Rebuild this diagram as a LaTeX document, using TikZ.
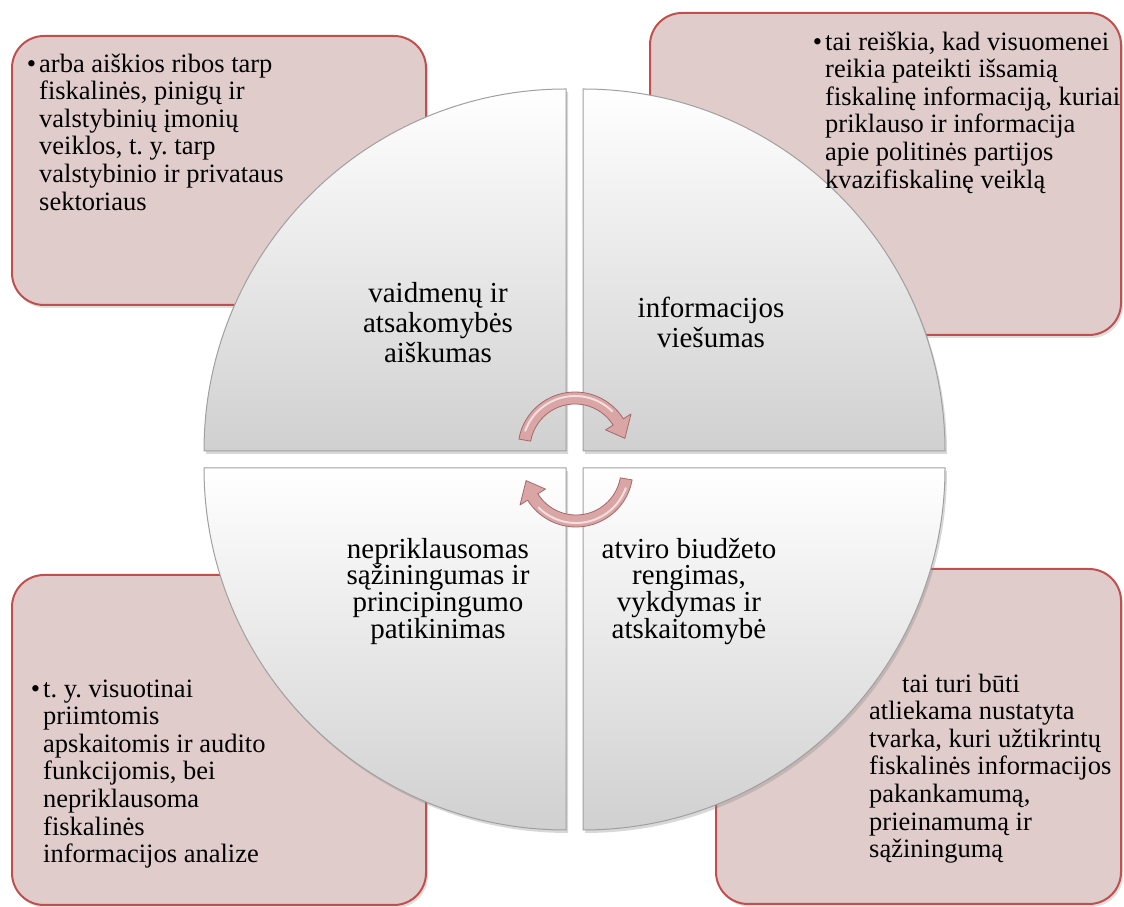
\documentclass[tikz,border=0pt]{standalone}
\usepackage{fontspec}
\setmainfont{Liberation Serif}
\usetikzlibrary{shadows}
\frenchspacing
\definecolor{boxfill}{HTML}{E1CCCC}
\definecolor{boxline}{HTML}{C0504D}
\definecolor{quadgray}{HTML}{D0D0D0}
\definecolor{quadline}{HTML}{A0A0A0}
\definecolor{arrowfill}{HTML}{D9A5A5}
\definecolor{arrowline}{HTML}{A46A6A}
\begin{document}
\begin{tikzpicture}[x=1pt,y=1pt,
  infobox/.style={draw=boxline, line width=2pt, fill=boxfill, rounded corners=32pt,
    drop shadow={opacity=0.25, shadow xshift=2pt, shadow yshift=-3pt}},
  quad/.style={draw=quadline, line width=1pt, top color=white, bottom color=quadgray,
    drop shadow={opacity=0.3, shadow xshift=2pt, shadow yshift=-3pt}},
  boxtext/.style={anchor=north west, inner sep=0pt, align=left,
    font=\fontsize{26.5}{27.6}\selectfont},
  quadtext/.style={anchor=north, inner sep=0pt, align=center},
  cyclearrow/.style={fill=arrowfill, draw=arrowline, line width=0.8pt, line join=round},
  gleam/.style={draw=white, opacity=0.65, line width=2pt, line cap=round}
]
\useasboundingbox (0,0) rectangle (1124,907);
\fill[white] (0,0) rectangle (1124,907);

% information boxes
\path[infobox] (12,602) rectangle (426,871);
\path[infobox] (650,572) rectangle (1121,894);
\path[infobox] (12,2) rectangle (426,332);
\path[infobox] (716,3) rectangle (1121,338);

% quadrants
\path[quad] (566,456) -- (204,456) arc[start angle=180, end angle=90, radius=362pt] -- cycle;
\path[quad] (583,456) -- (583,818) arc[start angle=90, end angle=0, radius=362pt] -- cycle;
\path[quad] (566,439) -- (204,439) arc[start angle=180, end angle=270, radius=362pt] -- cycle;
\path[quad] (583,439) -- (945,439) arc[start angle=0, end angle=-90, radius=362pt] -- cycle;

% box texts
\node[boxtext] (tltext) at (39,859) {\rule{0pt}{24pt}\llap{•\hspace{3pt}}arba aiškios ribos tarp\\fiskalinės, pinigų ir\\valstybinių įmonių\\veiklos, t. y. tarp\\valstybinio ir privataus\\sektoriaus};
\node[boxtext] (trtext) at (825,881) {\rule{0pt}{24pt}\llap{•\hspace{3pt}}tai reiškia, kad visuomenei\\reikia pateikti išsamią\\fiskalinę informaciją, kuriai\\priklauso ir informacija\\apie politinės partijos\\kvazifiskalinę veiklą};
\node[boxtext] (bltext) at (43,234) {\rule{0pt}{24pt}\llap{•\hspace{3pt}}t. y. visuotinai\\priimtomis\\apskaitomis ir audito\\funkcijomis, bei\\nepriklausoma\\fiskalinės\\informacijos analize};
\node[boxtext] (brtext) at (869,239) {\rule{0pt}{24pt}\hspace*{33pt}tai turi būti\\atliekama nustatyta\\tvarka, kuri užtikrintų\\fiskalinės informacijos\\pakankamumą,\\prieinamumą ir\\sąžiningumą};

% quadrant titles
\node[quadtext, font=\fontsize{29}{30}\selectfont] (roles) at (438,631) {\rule{0pt}{26pt}vaidmenų ir\\atsakomybės\\aiškumas};
\node[quadtext, font=\fontsize{29}{30}\selectfont] (public) at (711,616) {\rule{0pt}{26pt}informacijos\\viešumas};
\node[quadtext, font=\fontsize{29}{26.7}\selectfont] (integrity) at (438,375) {\rule{0pt}{26pt}nepriklausomas\\sąžiningumas ir\\principingumo\\patikinimas};
\node[quadtext, font=\fontsize{29}{26.7}\selectfont] (budget) at (689,375) {\rule{0pt}{26pt}atviro biudžeto\\rengimas,\\vykdymas ir\\atskaitomybė};

% cycle arrows
\coordinate (ctop) at (575,458);
\coordinate (cbot) at (576,437);
\path[cyclearrow] ([shift={(170:57)}]ctop) arc[start angle=170, end angle=32, radius=57pt]
  -- ([shift={(32:66)}]ctop) -- ([shift={(12:51)}]ctop) -- ([shift={(32:36)}]ctop)
  -- ([shift={(32:45)}]ctop) arc[start angle=32, end angle=170, radius=45pt] -- cycle;
\path[gleam] ([shift={(160:53)}]ctop) arc[start angle=160, end angle=45, radius=53pt];
\path[cyclearrow] ([shift={(-10:57)}]cbot) arc[start angle=-10, end angle=-148, radius=57pt]
  -- ([shift={(-148:66)}]cbot) -- ([shift={(-168:51)}]cbot) -- ([shift={(-148:36)}]cbot)
  -- ([shift={(-148:45)}]cbot) arc[start angle=-148, end angle=-10, radius=45pt] -- cycle;
\path[gleam] ([shift={(-20:53)}]cbot) arc[start angle=-20, end angle=-135, radius=53pt];
\end{tikzpicture}
\end{document}
